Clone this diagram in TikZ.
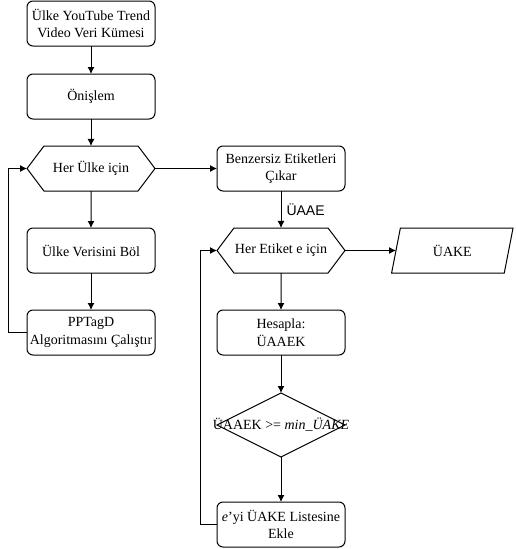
\documentclass[tikz,border=0pt]{standalone}
\usepackage{fontspec}
\setmainfont{Liberation Serif}
\newfontfamily\lblfont{Liberation Sans}
\usetikzlibrary{arrows.meta,positioning,shapes.geometric,shapes.symbols}
\tikzset{proc/.style={draw,rounded corners=6pt,minimum height=45pt,minimum width=128pt,inner sep=0pt,outer sep=0pt,align=center,line width=1pt},forhex/.style={draw,signal,signal to=west and east,signal pointer angle=106,minimum height=45pt,minimum width=128pt,inner sep=0pt,outer sep=0pt,line width=1pt},io/.style={draw,trapezium,trapezium left angle=74,trapezium right angle=106,trapezium stretches=true,minimum height=45pt,minimum width=122pt,inner sep=0pt,outer sep=0pt,line width=1pt},decide/.style={draw,diamond,minimum height=64pt,minimum width=128pt,inner sep=0pt,outer sep=0pt,line width=1pt},arr/.style={-{Latex[length=7pt,width=7pt]},line width=1pt},lab/.style={font=\lblfont\fontsize{14}{17}\selectfont,inner sep=5pt}}
\begin{document}
\begin{tikzpicture}[x=1pt,y=-1pt,font=\fontsize{14}{17.5}\selectfont,node distance=37pt and 62pt]
\useasboundingbox (0,0) rectangle (515,549);
\node[proc] (veri) at (91,23.5) {Ülke YouTube Trend\\Video Veri Kümesi};
\node[proc,below=28pt of veri] (onis) {Önişlem};
\node[forhex,below=27pt of onis] (ulke) {Her Ülke için};
\node[proc,below=of ulke] (bol) {Ülke Verisini Böl};
\node[proc,below=of bol] (ppt) {PPTagD\\Algoritmasını Çalıştır};
\node[proc,right=of ulke] (benz) {Benzersiz Etiketleri\\Çıkar};
\node[forhex,below=of benz] (etiket) {Her Etiket e için};
\node[io,right=51pt of etiket] (uake) {ÜAKE};
\node[proc,below=of etiket] (hesap) {Hesapla:\\ÜAAEK};
\node[decide,below=38pt of hesap] (kosul) {\makebox[0pt]{ÜAAEK >= \textit{min\_ÜAKE}}};
\node[proc,below=45pt of kosul] (ekle) {\textit{e}'yi ÜAKE Listesine\\Ekle};
\draw[arr] (veri) -- (onis);
\draw[arr] (onis) -- (ulke);
\draw[arr] (ulke) -- (bol);
\draw[arr] (bol) -- (ppt);
\draw[arr] (ppt.west) -- ++(-19,0) |- (ulke.west);
\draw[arr] (ulke.east) -- (benz.west);
\draw[arr] (benz) -- node[lab,right]{ÜAAE} (etiket);
\draw[arr] (etiket.east) -- (uake.west);
\draw[arr] (etiket) -- (hesap);
\draw[arr] (hesap) -- (kosul);
\draw[arr] (kosul) -- (ekle);
\draw[arr] (ekle.west) -- ++(-17,0) |- (etiket.west);
\end{tikzpicture}
\end{document}
